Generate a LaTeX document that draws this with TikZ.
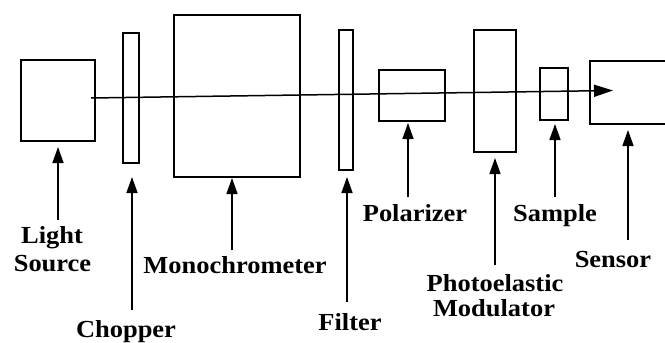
\documentclass[tikz,border=0pt]{standalone}
\usepackage{fontspec}
\setmainfont{Liberation Serif}[FakeStretch=1.08]
\usetikzlibrary{arrows.meta}
\begin{document}
\begin{tikzpicture}[x=1pt,y=-1pt,
  box/.style={draw, line width=1.5pt, inner sep=0pt, anchor=north west},
  lbl/.style={font=\bfseries\fontsize{24.5}{28}\selectfont, inner sep=0pt, anchor=base},
  pointer/.style={line width=1.5pt, -{Triangle[length=16pt,width=11pt]}},
  beam/.style={line width=1.5pt, -{Triangle[length=19pt,width=12pt]}}]
\useasboundingbox (0,0) rectangle (665,343);
\clip (0,0) rectangle (665,343);
% components
\node (ls)   [box, minimum width=74pt,  minimum height=81pt]  at (20,59)  {};
\node (ch)   [box, minimum width=16pt,  minimum height=130pt] at (122,32) {};
\node (mono) [box, minimum width=126pt, minimum height=162pt] at (173,14) {};
\node (filt) [box, minimum width=14pt,  minimum height=140pt] at (338,29) {};
\node (pol)  [box, minimum width=66pt,  minimum height=51pt]  at (378,69) {};
\node (pem)  [box, minimum width=42pt,  minimum height=122pt] at (473,29) {};
\node (samp) [box, minimum width=28pt,  minimum height=52pt]  at (539,67) {};
\node (sens) [box, minimum width=95pt,  minimum height=63pt]  at (589,60) {};
% beam
\coordinate (bs) at (91,98);
\coordinate (be) at (613,90.5);
\draw[beam] (bs) -- (be);
% labels
\node (lightA) [lbl] at (52,243) {Light};
\node (lightB) [lbl] at (52.5,271) {Source};
\node (chopL)  [lbl] at (126,337) {Chopper};
\node (monoL)  [lbl] at (235,273) {Monochrometer};
\node (filtL)  [lbl] at (350,330) {Filter};
\node (polL)   [lbl] at (415,221) {Polarizer};
\node (pemA)   [lbl] at (495,291) {Photoelastic};
\node (pemB)   [lbl] at (494,316) {Modulator};
\node (sampL)  [lbl] at (555,221) {Sample};
\node (sensL)  [lbl] at (613,267) {Sensor};
% pointer ends
\coordinate (lsT) at (58,220);  \coordinate (lsH) at (58,147);
\coordinate (chT) at (132,310); \coordinate (chH) at (132,177);
\coordinate (moT) at (232,250); \coordinate (moH) at (232,178);
\coordinate (fiT) at (347,302); \coordinate (fiH) at (347,177);
\coordinate (poT) at (408,197); \coordinate (poH) at (408,123);
\coordinate (peT) at (495,265); \coordinate (peH) at (495,158);
\coordinate (saT) at (555,197); \coordinate (saH) at (555,124);
\coordinate (seT) at (628,240); \coordinate (seH) at (628,130);
\draw[pointer] (lsT) -- (lsH);
\draw[pointer] (chT) -- (chH);
\draw[pointer] (moT) -- (moH);
\draw[pointer] (fiT) -- (fiH);
\draw[pointer] (poT) -- (poH);
\draw[pointer] (peT) -- (peH);
\draw[pointer] (saT) -- (saH);
\draw[pointer] (seT) -- (seH);
\end{tikzpicture}
\end{document}
